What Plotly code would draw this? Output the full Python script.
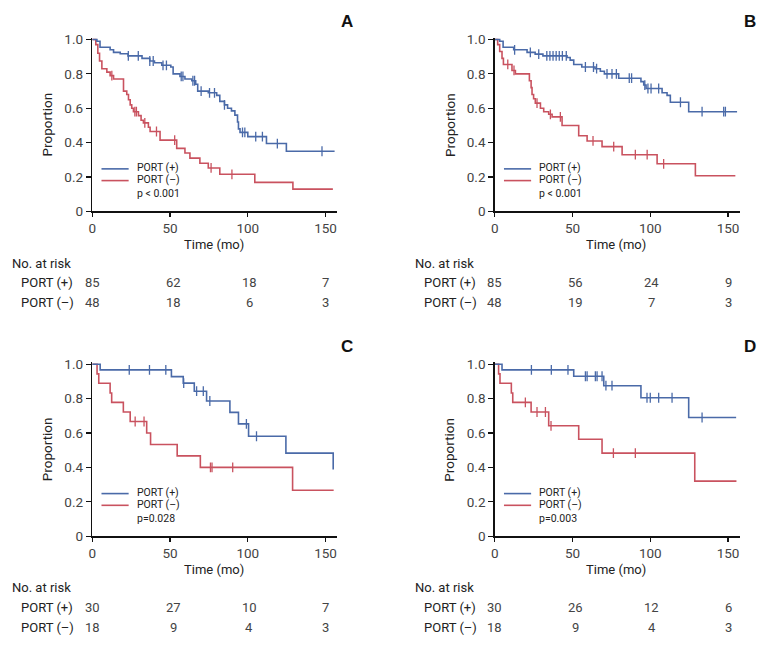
import plotly.graph_objects as go

W, H = 761, 649
FONT = "Roboto, Liberation Sans, sans-serif"
BLUE = "#4a6aa8"
RED = "#c9525f"

# ---------------- data ----------------
# Panel A
A_pos_t = [3, 5, 11.5, 13.7, 18, 23, 32, 37, 40, 44.7, 50.5, 52, 56.4, 59.6, 64, 66.5, 67.8, 74.6, 80, 82, 85, 87, 89.5, 91.7, 93.4, 94, 95, 100, 112, 124.8]
A_pos_s = [0.99, 0.955, 0.94, 0.925, 0.917, 0.905, 0.89, 0.875, 0.865, 0.85, 0.84, 0.80, 0.785, 0.77, 0.76, 0.74, 0.70, 0.69, 0.675, 0.64, 0.62, 0.60, 0.585, 0.56, 0.52, 0.48, 0.46, 0.435, 0.395, 0.35]
A_pos_end = 155.8
A_pos_cens = [23.2, 29.6, 37, 39.2, 45.5, 47.7, 57.2, 58.3, 64.7, 65.8, 70, 75.4, 78.6, 85, 96.6, 98.1, 105.1, 109.4, 119, 147.7]
A_neg_t = [2.3, 3.6, 4.7, 6.2, 9.4, 11.5, 13.7, 20.1, 22.2, 23.3, 24.4, 25.4, 26.5, 29.7, 31.4, 32.9, 36.1, 37.2, 43.6, 54.3, 59.6, 62.8, 69.2, 74.6, 82, 104.5, 129]
A_neg_s = [0.97, 0.92, 0.875, 0.83, 0.81, 0.79, 0.77, 0.70, 0.68, 0.65, 0.62, 0.60, 0.58, 0.557, 0.53, 0.515, 0.49, 0.465, 0.415, 0.367, 0.34, 0.31, 0.28, 0.253, 0.216, 0.169, 0.13]
A_neg_end = 154.7
A_neg_cens = [12.6, 27.4, 28.4, 33.8, 41.3, 53, 76.4, 89.8]

# Panel B
B_pos_t = [3.2, 5.4, 12.2, 20.8, 26, 31, 46.5, 48.5, 50.8, 56, 64.5, 67.9, 70.5, 79.7, 94, 95.8, 97.3, 107.6, 110.8, 112.9, 124.7]
B_pos_s = [0.99, 0.955, 0.94, 0.925, 0.915, 0.905, 0.895, 0.88, 0.855, 0.84, 0.83, 0.815, 0.80, 0.775, 0.755, 0.735, 0.715, 0.69, 0.675, 0.635, 0.58]
B_pos_end = 155.8
B_pos_cens = [12.8, 22.9, 28.3, 33.5, 35.5, 37.5, 39.5, 41.5, 43.5, 46, 58.3, 63.5, 65.5, 72.2, 75.4, 78.2, 86.5, 88, 96.5, 98.5, 100.5, 105.4, 119.4, 133.3, 147.2, 148.3]
B_neg_t = [1.9, 3.2, 4.7, 5.6, 11.1, 13.3, 22.3, 23.4, 24.0, 25.0, 26.1, 29.4, 31.5, 34.7, 36.9, 43.3, 54.0, 59.4, 69.0, 81.9, 104.4, 129.0]
B_neg_s = [0.97, 0.93, 0.89, 0.855, 0.82, 0.80, 0.76, 0.72, 0.68, 0.655, 0.63, 0.60, 0.58, 0.565, 0.55, 0.50, 0.44, 0.41, 0.377, 0.33, 0.277, 0.208]
B_neg_end = 154.7
B_neg_cens = [8.4, 12.4, 27.2, 35.8, 42.2, 63.2, 76.5, 90.4, 98, 108.6]

# Panel C
C_pos_t = [5.1, 50.9, 58.5, 65.6, 73.5, 88.5, 94, 100.5, 124.5, 154.9]
C_pos_s = [0.967, 0.928, 0.89, 0.843, 0.786, 0.72, 0.653, 0.581, 0.483, 0.388]
C_pos_end = 154.9
C_pos_cens = [23.8, 36.8, 47.3, 58.8, 67.1, 71.4, 75.6, 99.1, 105.6]
C_neg_t = [3.1, 4.2, 11.5, 12.5, 20, 24.4, 35, 37.5, 54.6, 69.5, 128.8]
C_neg_s = [0.944, 0.889, 0.833, 0.778, 0.722, 0.667, 0.60, 0.533, 0.467, 0.40, 0.267]
C_neg_end = 155.2
C_neg_cens = [27.6, 33.3, 76, 77, 90.3]

# Panel D
D_pos_t = [4.7, 50.8, 70.1, 94, 124.7]
D_pos_s = [0.967, 0.93, 0.875, 0.805, 0.69]
D_pos_end = 155.2
D_pos_cens = [23.6, 36.4, 47.1, 58.3, 59.4, 64.7, 65.8, 69, 71.5, 75.4, 97.9, 100, 105.4, 114, 133.3]
D_neg_t = [2.5, 3.4, 10.7, 11.6, 23.4, 34.7, 54, 69, 128.6]
D_neg_s = [0.944, 0.889, 0.833, 0.778, 0.722, 0.642, 0.564, 0.483, 0.32]
D_neg_end = 155.4
D_neg_cens = [19.7, 27.2, 32.6, 36.2, 76.3, 90.4]

panel_letters = ["A", "B", "C", "D"]
p_values = ["p < 0.001", "p < 0.001", "p=0.028", "p=0.003"]
series_names = ["PORT (+)", "PORT (\u2013)"]
risk_times = [0, 52, 101, 150]
risk_pos = [[85, 62, 18, 7], [85, 56, 24, 9], [30, 27, 10, 7], [30, 26, 12, 6]]
risk_neg = [[48, 18, 6, 3], [48, 19, 7, 3], [18, 9, 4, 3], [18, 9, 4, 3]]
x_ticks = [0, 50, 100, 150]
y_ticks = [0, 0.2, 0.4, 0.6, 0.8, 1.0]
y_ticktext = ["0", "0.2", "0.4", "0.6", "0.8", "1.0"]

panels = [
    (A_pos_t, A_pos_s, A_pos_end, A_pos_cens, A_neg_t, A_neg_s, A_neg_end, A_neg_cens),
    (B_pos_t, B_pos_s, B_pos_end, B_pos_cens, B_neg_t, B_neg_s, B_neg_end, B_neg_cens),
    (C_pos_t, C_pos_s, C_pos_end, C_pos_cens, C_neg_t, C_neg_s, C_neg_end, C_neg_cens),
    (D_pos_t, D_pos_s, D_pos_end, D_pos_cens, D_neg_t, D_neg_s, D_neg_end, D_neg_cens),
]

# ---------------- layout geometry (pixels) ----------------
def PX(x):
    return x / W

def PY(y):
    return 1 - y / H

X_RANGE = [0, 157.5]
Y_RANGE = [0, 1.01]
origins = [(88.7, 209.3), (493.3, 209.3), (88.7, 541.7), (493.3, 541.7)]
AX_W = 246.3
AX_H = 177.8


def surv_at(times, surv, t):
    s = 1.0
    for ti, si in zip(times, surv):
        if ti <= t:
            s = si
    return s


fig = go.Figure()
layout = dict(
    width=W, height=H, margin=dict(l=0, r=0, t=0, b=0),
    paper_bgcolor="white", plot_bgcolor="white", showlegend=False,
    font=dict(family=FONT, size=13, color="#222"),
)
annotations = []
shapes = []
TXT = "#222"

for i, data in enumerate(panels):
    n = "" if i == 0 else str(i + 1)
    ox, oy = origins[i]
    xa = dict(domain=[PX(ox), PX(ox + AX_W)], range=X_RANGE, tickvals=x_ticks,
              showgrid=False, zeroline=False, showline=True, linecolor="#111", linewidth=1.5,
              ticks="outside", ticklen=4, tickwidth=1.2, tickcolor="#111",
              tickfont=dict(family=FONT, size=13.5, color="#444"), anchor="y" + n, fixedrange=True)
    ya = dict(domain=[PY(oy), PY(oy - AX_H)], range=Y_RANGE, tickvals=y_ticks, ticktext=y_ticktext,
              showgrid=False, zeroline=False, showline=True, linecolor="#111", linewidth=1.5,
              ticks="outside", ticklen=5, tickwidth=1.2, tickcolor="#111",
              tickfont=dict(family=FONT, size=13.5, color="#444"), anchor="x" + n, fixedrange=True)
    layout["xaxis" + n] = xa
    layout["yaxis" + n] = ya

    pt, ps, pend, pc, nt, ns, nend, nc = data
    for (tt, ss, end, cens, col) in [(nt, ns, nend, nc, RED), (pt, ps, pend, pc, BLUE)]:
        xs = [0] + list(tt) + [end]
        ys = [1.0] + list(ss) + [ss[-1]]
        fig.add_trace(go.Scatter(x=xs, y=ys, mode="lines", line=dict(color=col, width=1.6, shape="hv"),
                                 xaxis="x" + n, yaxis="y" + n, hoverinfo="skip"))
        fig.add_trace(go.Scatter(x=cens, y=[surv_at(tt, ss, c) for c in cens], mode="markers",
                                 marker=dict(symbol="line-ns-open", size=7, color=col,
                                             line=dict(color=col, width=1.3)),
                                 xaxis="x" + n, yaxis="y" + n, hoverinfo="skip"))

    # legend (drawn manually)
    for k, (col, name) in enumerate([(BLUE, series_names[0]), (RED, series_names[1])]):
        ly = oy - 43.6 + 12 * k
        shapes.append(dict(type="line", xref="paper", yref="paper", x0=PX(ox + 9.3), x1=PX(ox + 36.6),
                           y0=PY(ly), y1=PY(ly), line=dict(color=col, width=1.6)))
        annotations.append(dict(text=name, xref="paper", yref="paper", x=PX(ox + 42.5), y=PY(ly - 1),
                                xanchor="left", yanchor="middle", showarrow=False,
                                font=dict(family=FONT, size=10.5, color=TXT)))
    annotations.append(dict(text=p_values[i], xref="paper", yref="paper", x=PX(ox + 42.5), y=PY(oy - 18),
                            xanchor="left", yanchor="middle", showarrow=False,
                            font=dict(family=FONT, size=10.5, color=TXT)))

    # panel letter
    annotations.append(dict(text="<b>%s</b>" % panel_letters[i], xref="paper", yref="paper",
                            x=PX(ox + 256.5), y=PY(oy - 194.5), xanchor="center", yanchor="middle",
                            showarrow=False, font=dict(family="Liberation Sans, Arial, sans-serif", size=17, color="#111")))
    # y title
    annotations.append(dict(text="Proportion", xref="paper", yref="paper", x=PX(ox - 45.5), y=PY(oy - 89),
                            xanchor="center", yanchor="middle", textangle=-90, showarrow=False,
                            font=dict(family=FONT, size=13.5, color=TXT)))
    # x title
    annotations.append(dict(text="Time (mo)", xref="paper", yref="paper", x=PX(ox + 122), y=PY(oy + 34),
                            xanchor="center", yanchor="middle", showarrow=False,
                            font=dict(family=FONT, size=13, color=TXT)))
    # at-risk table
    annotations.append(dict(text="No. at risk", xref="paper", yref="paper", x=PX(ox - 82.5), y=PY(oy + 53),
                            xanchor="left", yanchor="middle", showarrow=False,
                            font=dict(family=FONT, size=13, color=TXT)))
    for r, (label, vals) in enumerate([(series_names[0], risk_pos[i]), (series_names[1], risk_neg[i])]):
        ry = oy + 73 + 20 * r
        annotations.append(dict(text=label, xref="paper", yref="paper", x=PX(ox - 73.5), y=PY(ry),
                                xanchor="left", yanchor="middle", showarrow=False,
                                font=dict(family=FONT, size=13, color=TXT)))
        for tv, v in zip(risk_times, vals):
            annotations.append(dict(text=str(v), xref="x" + n, yref="paper", x=tv, y=PY(ry),
                                    xanchor="center", yanchor="middle", showarrow=False,
                                    font=dict(family=FONT, size=13, color="#444")))

layout["annotations"] = annotations
layout["shapes"] = shapes
fig.update_layout(**layout)
fig.write_html(
    "out.html",
    config={"displayModeBar": False, "staticPlot": True},
    post_script=("document.documentElement.style.margin='0';"
                 "document.documentElement.style.overflow='hidden';"
                 "document.body.style.margin='0';document.body.style.padding='0';"
                 "document.body.style.overflow='hidden';"),
)
